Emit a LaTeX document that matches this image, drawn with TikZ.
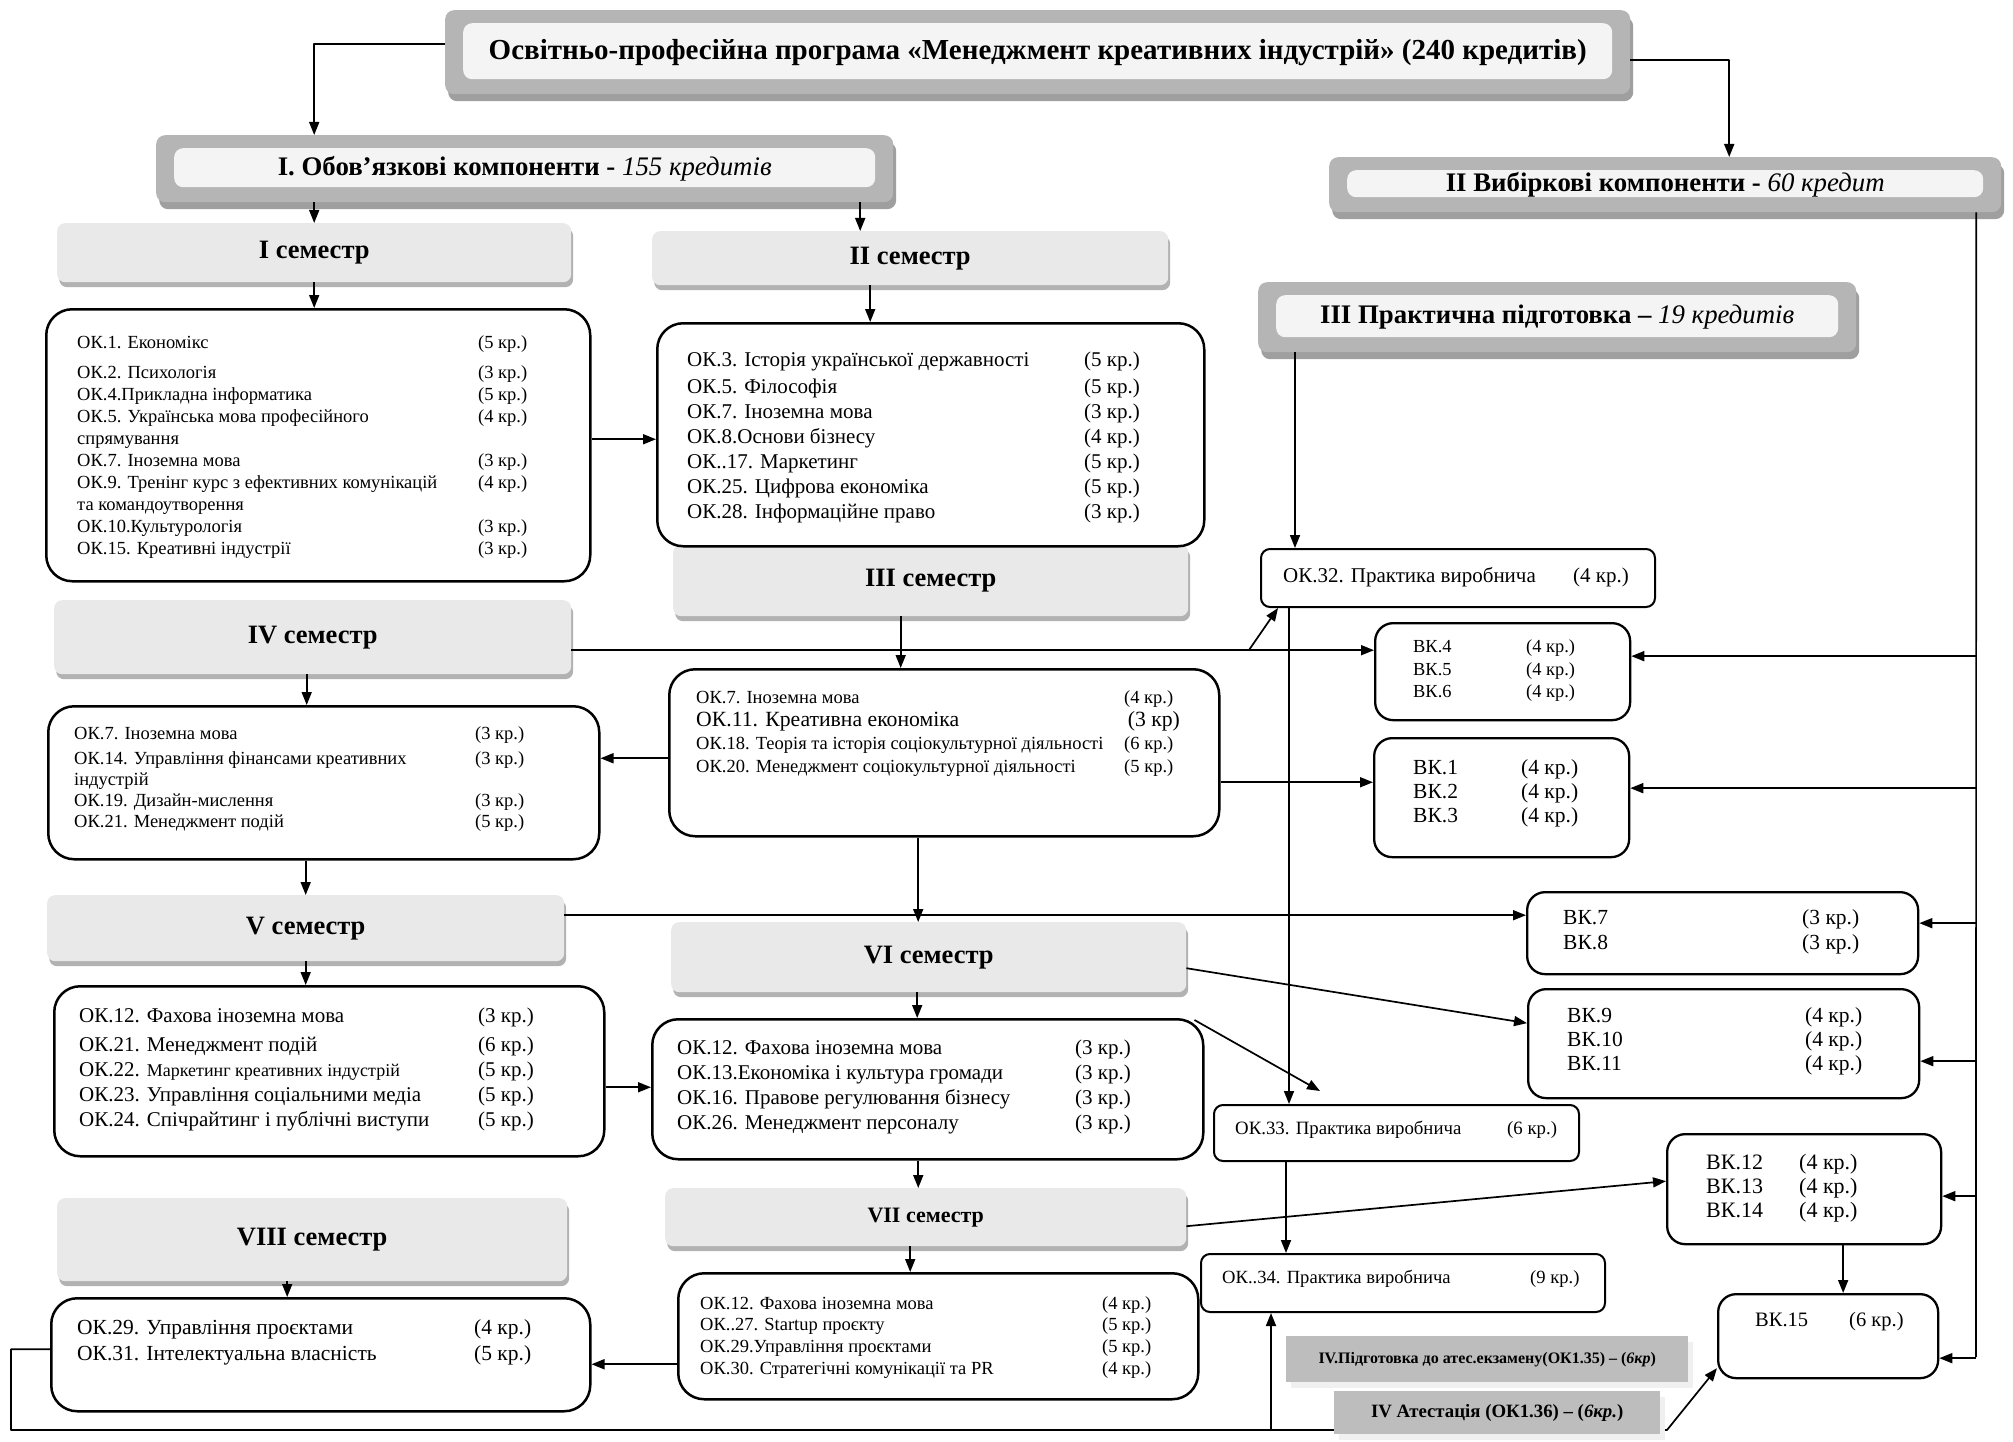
\documentclass[tikz,border=0pt]{standalone}
\usepackage{fontspec}
\setmainfont{Liberation Serif}
\usetikzlibrary{arrows.meta,shadows}
\newlength\cw
\newcommand\setcw[1]{\global\cw=#1pt\relax}
\newcommand\rw[2]{\makebox[\cw][l]{#1}#2}
\newcommand\fs[2]{\fontsize{#1}{#2}\selectfont}
\newcommand\mkbox[7]{\node[#1, minimum width={(#5-#3)*1pt}, minimum height={(#6-#4)*1pt}, anchor=north west] (#2) at (#3,#4) {#7};}
\tikzset{
 arr/.style={line width=1.7pt, -{Triangle[length=13pt,width=10pt]}},
 ln/.style={line width=1.7pt},
 okbox/.style={draw, line width=2.5pt, rounded corners=26pt, fill=white, inner sep=0pt},
 bkbox/.style={draw, line width=2.3pt, rounded corners=18pt, fill=white, inner sep=0pt},
 pbox/.style={draw, line width=2pt, rounded corners=9pt, fill=white, inner sep=0pt},
 sem/.style={fill=gray!17, rounded corners=8pt, inner sep=0pt, drop shadow={shadow xshift=2pt, shadow yshift=-5pt, fill=gray!60, opacity=1}, font=\fs{26.5}{31}\bfseries},
 frm/.style={fill=gray!58, rounded corners=9pt, inner sep=0pt, drop shadow={shadow xshift=3pt, shadow yshift=-7pt, fill=gray!75, opacity=1}, path picture={\fill[gray!9] ([shift={(18pt,-13pt)}]path picture bounding box.north west) rectangle ([shift={(-18pt,15pt)}]path picture bounding box.south east);}},
 dk/.style={fill=gray!52, inner sep=0pt, drop shadow={shadow xshift=5pt, shadow yshift=-6pt, fill=gray!12, opacity=1}},
 txt/.style={anchor=north west, inner sep=0pt, align=left},
}
\begin{document}
\begin{tikzpicture}[x=1pt, y=-1pt, line join=round]
\fill[white] (0,0) rectangle (2013,1442);
\useasboundingbox (0,0) rectangle (2013,1442);

% header boxes
\mkbox{frm}{title}{445}{10}{1630}{94}{\fs{29}{34}\bfseries Освітньо-професійна програма «Менеджмент креативних індустрій» (240 кредитів)}
\mkbox{frm}{boxI}{156}{135}{893}{202}{\fs{26.8}{31}\bfseries I. Обов’язкові компоненти - {\mdseries\itshape 155 кредитів}}
\mkbox{frm}{boxII}{1329}{157}{2001}{212}{\fs{26.8}{31}\bfseries II Вибіркові компоненти - {\mdseries\itshape 60 кредит}}
\mkbox{frm}{boxIII}{1258}{282}{1856}{352}{\fs{26.8}{31}\bfseries III Практична підготовка – {\mdseries\itshape 19 кредитів}}

% semester boxes
\mkbox{sem}{s1}{57}{223}{571}{282}{I семестр}
\mkbox{sem}{s2}{652}{231}{1168}{285}{II семестр}
\mkbox{sem}{s3}{673}{544}{1188}{616}{III семестр}
\mkbox{sem}{s4}{54}{600}{571}{674}{IV семестр}
\mkbox{sem}{s5}{47}{895}{564}{961}{V семестр}
\mkbox{sem}{s6}{671}{922}{1186}{992}{VI семестр}
\mkbox{sem, font=\fs{22}{26}\bfseries}{s7}{665}{1188}{1186}{1246}{VII семестр}
\mkbox{sem}{s8}{57}{1198}{567}{1281}{VIII семестр}

% content boxes
\mkbox{okbox}{ok1}{45}{308}{589}{580}{}
\mkbox{okbox}{ok2}{656}{322}{1203}{545}{}
\mkbox{okbox}{ok3}{668}{668}{1218}{835}{}
\mkbox{okbox}{ok4}{47}{705}{598}{858}{}
\mkbox{okbox}{ok5}{53}{985}{603}{1155}{}
\mkbox{okbox}{ok6}{651}{1018}{1202}{1158}{}
\mkbox{okbox}{ok7}{677}{1272}{1197}{1398}{}
\mkbox{okbox}{ok8}{50}{1297}{589}{1410}{}
\mkbox{pbox}{ok32}{1260}{548}{1654}{606}{}
\mkbox{pbox}{ok33}{1213}{1104}{1578}{1160}{}
\mkbox{pbox}{ok34}{1200}{1253}{1604}{1311}{}
\mkbox{bkbox}{bk46}{1374}{622}{1629}{719}{}
\mkbox{bkbox}{bk13}{1373}{737}{1628}{856}{}
\mkbox{bkbox}{bk78}{1526}{891}{1917}{973}{}
\mkbox{bkbox}{bk911}{1527}{988}{1918}{1097}{}
\mkbox{bkbox}{bk1214}{1666}{1133}{1940}{1243}{}
\mkbox{bkbox}{bk15}{1717}{1293}{1937}{1377}{}

% texts
\setcw{401}
\node[txt, font=\fs{18.5}{22}] (ok1t) at (77,335) {%
\rw{ОК.1. Економікс}{(5 кр.)}\\[8pt]
\rw{ОК.2. Психологія}{(3 кр.)}\\
\rw{ОК.4.Прикладна інформатика}{(5 кр.)}\\
\rw{ОК.5. Українська мова професійного}{(4 кр.)}\\
спрямування\\
\rw{ОК.7. Іноземна мова}{(3 кр.)}\\
\rw{ОК.9. Тренінг курс з ефективних комунікацій}{(4 кр.)}\\
та командоутворення\\
\rw{ОК.10.Культурологія}{(3 кр.)}\\
\rw{ОК.15. Креативні індустрії}{(3 кр.)}};

\setcw{397}
\node[txt, font=\fs{21}{25}] (ok2t) at (687,352) {%
\rw{ОК.3. Історія української державності}{(5 кр.)}\\[2pt]
\rw{ОК.5. Філософія}{(5 кр.)}\\
\rw{ОК.7. Іноземна мова}{(3 кр.)}\\
\rw{ОК.8.Основи бізнесу}{(4 кр.)}\\
\rw{ОК..17. Маркетинг}{(5 кр.)}\\
\rw{ОК.25. Цифрова економіка}{(5 кр.)}\\
\rw{ОК.28. Інформаційне право}{(3 кр.)}};

\setcw{428}
\node[txt, font=\fs{18.5}{23}] (ok3t) at (696,690) {%
\rw{ОК.7. Іноземна мова}{(4 кр.)}\\
{\fs{21.7}{23}\rw{ОК.11. Креативна економіка}{\,(3 кр)}}\\
\rw{ОК.18. Теорія та історія соціокультурної діяльності}{(6 кр.)}\\
\rw{ОК.20. Менеджмент соціокультурної діяльності}{(5 кр.)}};

\setcw{401}
\node[txt, font=\fs{18.5}{21}] (ok4t) at (74,726) {%
\rw{ОК.7. Іноземна мова}{(3 кр.)}\\[4pt]
\rw{ОК.14. Управління фінансами креативних}{(3 кр.)}\\
індустрій\\
\rw{ОК.19. Дизайн-мислення}{(3 кр.)}\\
\rw{ОК.21. Менеджмент подій}{(5 кр.)}};

\setcw{399}
\node[txt, font=\fs{21}{25}] (ok5t) at (79,1008) {%
\rw{ОК.12. Фахова іноземна мова}{(3 кр.)}\\[4pt]
\rw{ОК.21. Менеджмент подій}{(6 кр.)}\\
\rw{ОК.22. {\fs{18}{25}Маркетинг креативних індустрій}}{(5 кр.)}\\
\rw{ОК.23. Управління соціальними медіа}{(5 кр.)}\\
\rw{ОК.24. Спічрайтинг і публічні виступи}{(5 кр.)}};

\setcw{398}
\node[txt, font=\fs{21}{25}] (ok6t) at (677,1040) {%
\rw{ОК.12. Фахова іноземна мова}{(3 кр.)}\\
\rw{ОК.13.Економіка і культура громади}{(3 кр.)}\\
\rw{ОК.16. Правове регулювання бізнесу}{(3 кр.)}\\
\rw{ОК.26. Менеджмент персоналу}{(3 кр.)}};

\setcw{402}
\node[txt, font=\fs{18.5}{21.7}] (ok7t) at (700,1296) {%
\rw{ОК.12. Фахова іноземна мова}{(4 кр.)}\\
\rw{ОК..27. Startup проєкту}{(5 кр.)}\\
\rw{ОК.29.Управління проєктами}{(5 кр.)}\\
\rw{ОК.30. Стратегічні комунікації та PR}{(4 кр.)}};

\setcw{397}
\node[txt, font=\fs{21.5}{26}] (ok8t) at (77,1319) {%
\rw{ОК.29. Управління проєктами}{(4 кр.)}\\
\rw{ОК.31. Інтелектуальна власність}{(5 кр.)}};

\setcw{290}
\node[txt, font=\fs{21}{25}] (ok32t) at (1283,567) {\rw{ОК.32. Практика виробнича}{(4 кр.)}};
\setcw{272}
\node[txt, font=\fs{18.8}{22}] (ok33t) at (1235,1121) {\rw{ОК.33. Практика виробнича}{(6 кр.)}};
\setcw{308}
\node[txt, font=\fs{18.6}{22}] (ok34t) at (1222,1270) {\rw{ОК..34. Практика виробнича}{(9 кр.)}};

\setcw{113}
\node[txt, font=\fs{18.4}{22.5}] (bk46t) at (1413,640) {%
\rw{ВК.4}{(4 кр.)}\\\rw{ВК.5}{(4 кр.)}\\\rw{ВК.6}{(4 кр.)}};
\setcw{108}
\node[txt, font=\fs{21.5}{24}] (bk13t) at (1413,759) {%
\rw{ВК.1}{(4 кр.)}\\\rw{ВК.2}{(4 кр.)}\\\rw{ВК.3}{(4 кр.)}};
\setcw{239}
\node[txt, font=\fs{21.5}{25}] (bk78t) at (1563,909) {%
\rw{ВК.7}{(3 кр.)}\\\rw{ВК.8}{(3 кр.)}};
\setcw{238}
\node[txt, font=\fs{21.5}{24}] (bk911t) at (1567,1007) {%
\rw{ВК.9}{(4 кр.)}\\\rw{ВК.10}{(4 кр.)}\\\rw{ВК.11}{(4 кр.)}};
\setcw{93}
\node[txt, font=\fs{22}{24}] (bk1214t) at (1706,1154) {%
\rw{ВК.12}{(4 кр.)}\\\rw{ВК.13}{(4 кр.)}\\\rw{ВК.14}{(4 кр.)}};
\setcw{94}
\node[txt, font=\fs{20.5}{24}] (bk15t) at (1755,1312) {\rw{ВК.15}{(6 кр.)}};

% connectors
\coordinate (t1) at ([yshift=8pt]title.west);
\draw[arr] (t1) -| (s1.north |- boxI.north);
\coordinate (t2) at ([yshift=-8pt]title.east);
\coordinate (b2) at ([xshift=64pt]boxII.north);
\draw[arr] (t2) -| (b2);
\draw[arr] (s1.north |- boxI.south) -- (s1.north);
\coordinate (s2n) at ([xshift=-50pt]s2.north);
\draw[arr] (s2n |- boxI.south) -- (s2n);
\draw[arr] (s1.south) -- (s1.south |- ok1.north);
\coordinate (s2s) at ([xshift=-40pt]s2.south);
\draw[arr] (s2s) -- (s2s |- ok2.north);
\coordinate (o1e) at ([yshift=6pt]ok1.east);
\draw[arr] (o1e) -- (o1e -| ok2.west);
\coordinate (o32n) at ([xshift=-163pt]ok32.north);
\draw[arr] (o32n |- boxIII.south) -- (o32n);
\coordinate (s3s) at ([xshift=-30pt]s3.south);
\draw[arr] (s3s) -- (s3s |- ok3.north);
\coordinate (s4e) at ([yshift=-13pt]s4.east);
\draw[arr] (s4e) -- (s4e -| bk46.west);
\coordinate (br4) at (1249,650);
\draw[arr] (br4) -- ([xshift=18pt]ok32.south west);
\coordinate (s4s) at ([xshift=-6pt]s4.south);
\draw[arr] (s4s) -- (s4s |- ok4.north);
\coordinate (o33n) at ([xshift=-107.5pt]ok33.north);
\draw[arr] (o33n |- ok32.south) -- (o33n);
\coordinate (o3w) at ([yshift=-5.5pt]ok3.west);
\draw[arr] (o3w) -- (o3w -| ok4.east);
\coordinate (o3e) at ([yshift=-29.5pt]ok3.east);
\draw[arr] (o3e) -- (o3e -| bk13.west);
\coordinate (s6n) at ([xshift=-10.5pt]s6.north);
\draw[arr] (s6n |- ok3.south) -- (s6n);
\draw[arr] (s5.north |- ok4.south) -- (s5.north);
\coordinate (s5e) at ([yshift=13pt]s5.east);
\draw[arr] (s5e) -- (s5e -| bk78.west);
\draw[arr] (s5.south) -- (s5.south |- ok5.north);
\coordinate (o5e) at ([yshift=-16pt]ok5.east);
\draw[arr] (o5e) -- (o5e -| ok6.west);
\coordinate (s6e) at ([yshift=-11pt]s6.east);
\draw[arr] (s6e) -- ([yshift=20.5pt]bk911.west);
\coordinate (s6s) at ([xshift=-11.5pt]s6.south);
\draw[arr] (s6s) -- (s6s |- ok6.north);
\coordinate (t33) at ([xshift=107pt,yshift=13pt]ok33.north west);
\draw[arr] ([xshift=-10pt,yshift=-2pt]ok6.north east) -- (t33);
\coordinate (o6s) at ([xshift=-9.5pt]ok6.south);
\draw[arr] (o6s) -- (o6s |- s7.north);
\coordinate (s7e) at ([yshift=-9pt]s7.east);
\draw[arr] (s7e) -- ([yshift=8pt]bk1214.west);
\coordinate (s7s) at ([xshift=-15.5pt]s7.south);
\draw[arr] (s7s) -- (s7s |- ok7.north);
\coordinate (o7w) at ([yshift=-28pt]ok7.west);
\draw[arr] (o7w) -- (o7w -| ok8.east);
\coordinate (s8s) at ([xshift=-25pt]s8.south);
\draw[arr] (s8s) -- (s8s |- ok8.north);
\coordinate (o33s) at ([xshift=-110.5pt]ok33.south);
\draw[arr] (o33s) -- (o33s |- ok34.north);
\coordinate (o8w) at ([yshift=5.5pt]ok8.west);
\coordinate (lpA) at (11,1430);
\coordinate (lpB) at (1667,1430);
\coordinate (lpC) at (1271,1430);
\draw[arr] (o8w) -| (lpA) -- (lpB) -- ([yshift=-32pt]bk15.west);
\draw[arr] (lpC) -- (lpC |- ok34.south);
\coordinate (b14s) at ([xshift=39pt]bk1214.south);
\draw[arr] (b14s) -- (b14s |- bk15.north);
% right vertical bus
\coordinate (rvT) at ([xshift=311pt]boxII.south);
\coordinate (rvB) at (1976,1357);
\draw[ln] (rvT) -- (rvB);
\coordinate (e46) at ([yshift=15.5pt]bk46.east);
\coordinate (e13) at ([yshift=9.5pt]bk13.east);
\coordinate (e78) at ([yshift=10pt]bk78.east);
\coordinate (e911) at ([yshift=-17.5pt]bk911.east);
\coordinate (e1214) at ([yshift=-7pt]bk1214.east);
\coordinate (e15) at ([yshift=-22pt]bk15.east);
\foreach \e in {e46,e13,e78,e911,e1214,e15} {\draw[arr] (rvT |- \e) -- (\e);}

% attestation boxes (drawn over the bottom line)
\mkbox{dk}{at1}{1286}{1336}{1688}{1382}{\fs{16}{18}\bfseries IV.Підготовка до атес.екзамену(ОК1.35) – ({\itshape 6кр})}
\mkbox{dk}{at2}{1334}{1391}{1660}{1434}{\fs{18.8}{21}\bfseries IV Атестація (ОК1.36) – ({\itshape 6кр.})}
\end{tikzpicture}
\end{document}
